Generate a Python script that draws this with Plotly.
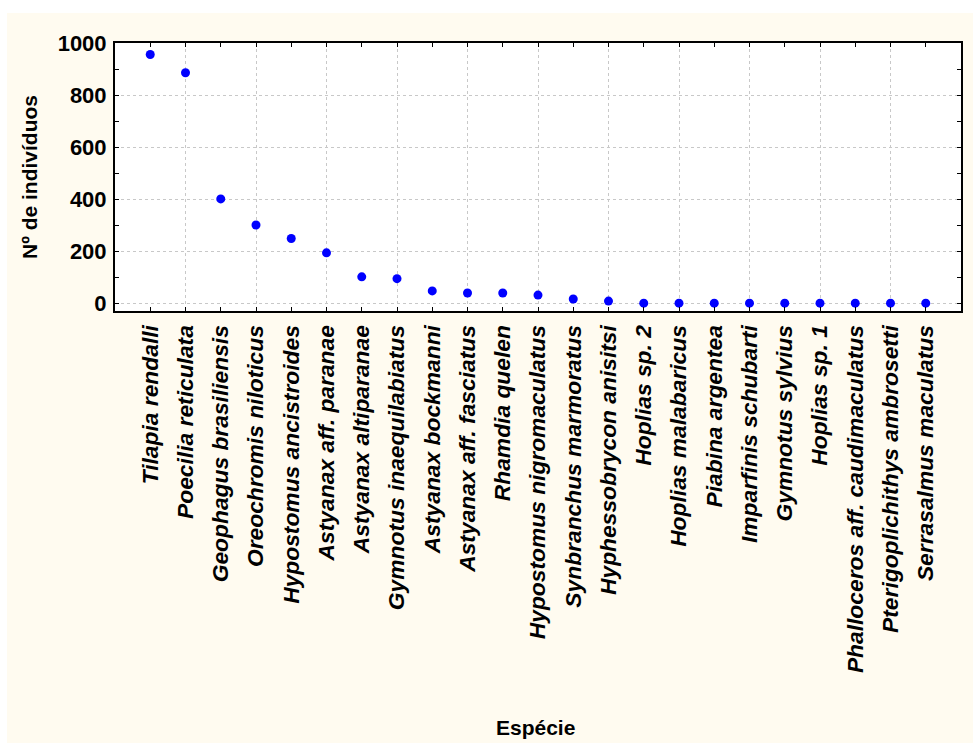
import plotly.graph_objects as go

species = [
    "Tilapia rendalli", "Poecilia reticulata", "Geophagus brasiliensis",
    "Oreochromis niloticus", "Hypostomus ancistroides", "Astyanax aff. paranae",
    "Astyanax altiparanae", "Gymnotus inaequilabiatus", "Astyanax bockmanni",
    "Astyanax aff. fasciatus", "Rhamdia quelen", "Hypostomus nigromaculatus",
    "Synbranchus marmoratus", "Hyphessobrycon anisitsi", "Hoplias sp. 2",
    "Hoplias malabaricus", "Piabina argentea", "Imparfinis schubarti",
    "Gymnotus sylvius", "Hoplias sp. 1", "Phalloceros aff. caudimaculatus",
    "Pterigoplichithys ambrosetti", "Serrasalmus maculatus",
]
counts = [956, 886, 402, 302, 250, 195, 103, 96, 49, 41, 41, 33, 18, 10,
          2, 2, 2, 2, 2, 2, 2, 2, 2]
y_ticks = [0, 200, 400, 600, 800, 1000]
x_title = "Espécie"
y_title = "Nº de indivíduos"

idx = list(range(len(species)))

CREAM = "#FFFBF0"
FONT = "Liberation Sans, Arial, sans-serif"

fig = go.Figure()
fig.add_trace(go.Scatter(
    x=idx, y=counts, mode="markers",
    marker=dict(color="#0000FF", size=9, line=dict(width=0)),
    showlegend=False,
))

fig.update_layout(
    width=973, height=743,
    margin=dict(l=115, r=12, t=43, b=432, autoexpand=False),
    paper_bgcolor=CREAM,
    plot_bgcolor="white",
    font=dict(family=FONT, color="black"),
    shapes=[
        dict(type="rect", xref="paper", yref="paper",
             x0=-115/846, x1=1 + 12/846, y0=1 + 30/268, y1=1 + 43/268,
             fillcolor="white", line=dict(width=0), layer="below"),
        dict(type="rect", xref="paper", yref="paper",
             x0=-115/846, x1=-108/846, y0=-432/268, y1=1 + 43/268,
             fillcolor="white", line=dict(width=0), layer="below"),
    ],
    annotations=[
        dict(text=f"<b>{x_title}</b>", xref="paper", yref="paper",
             x=0.497, y=-416/268, xanchor="center", yanchor="middle",
             showarrow=False, font=dict(family=FONT, size=21, color="black")),
    ],
)

fig.update_xaxes(
    range=[-1, len(species)],
    tickmode="array", tickvals=idx, ticktext=species,
    tickangle=-90,
    tickfont=dict(family=FONT, size=22.8, style="italic", weight="bold",
                  color="black"),
    ticks="inside", ticklen=4, tickwidth=1, tickcolor="black",
    ticklabelstandoff=3,
    showgrid=False,
    minor=dict(tick0=1, dtick=2, showgrid=True, gridcolor="#C8C8C8",
               griddash="dot", gridwidth=1, ticks="inside", ticklen=4,
               tickcolor="black"),
    showline=True, linecolor="black", linewidth=2, mirror="allticks",
    zeroline=False, automargin=False,
)

fig.update_yaxes(
    range=[-28, 1000],
    tickmode="array", tickvals=y_ticks,
    ticktext=[f"<b>{v}</b>" for v in y_ticks],
    tickfont=dict(family=FONT, size=22, color="black"),
    ticks="inside", ticklen=4, tickwidth=1, tickcolor="black",
    ticklabelstandoff=2,
    showgrid=True, gridcolor="#C8C8C8", griddash="dot", gridwidth=1,
    minor=dict(tick0=100, dtick=200, showgrid=False, ticks="inside",
               ticklen=4, tickcolor="black"),
    showline=True, linecolor="black", linewidth=2, mirror="allticks",
    zeroline=False, automargin=False,
    title=dict(text=f"<b>{y_title}</b>", font=dict(family=FONT, size=21),
               standoff=14),
)

fig.write_html("out.html")
